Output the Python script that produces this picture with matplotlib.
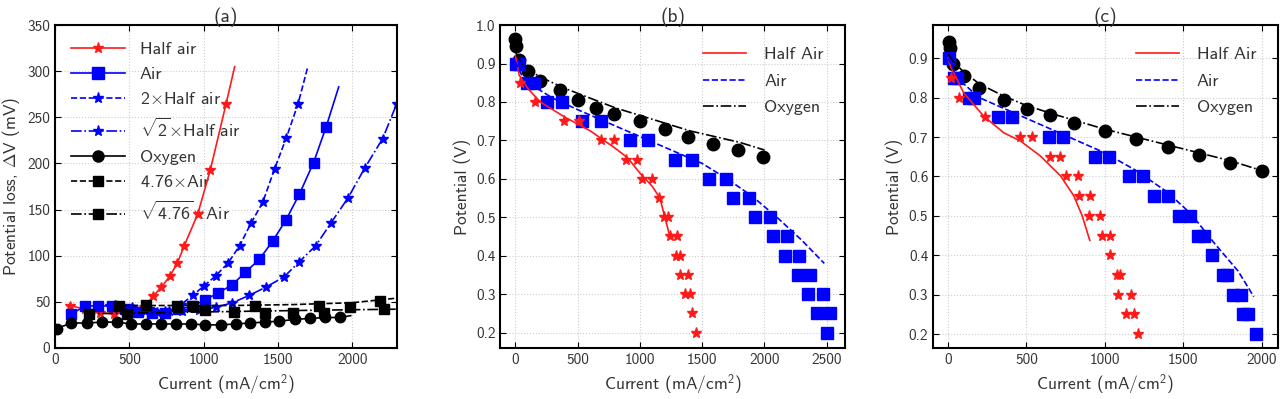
import matplotlib
matplotlib.use("Agg")
import matplotlib.pyplot as plt
from matplotlib.lines import Line2D

plt.rcParams["font.family"] = ["cmss10", "DejaVu Sans"]
plt.rcParams["mathtext.fontset"] = "custom"
plt.rcParams["mathtext.rm"] = "cmss10"
plt.rcParams["mathtext.it"] = "cmss10:italic"
plt.rcParams["mathtext.bf"] = "cmss10:bold"
plt.rcParams["axes.unicode_minus"] = False
plt.rcParams["axes.formatter.use_mathtext"] = False

# ---- panel (a): potential loss vs current ----
half_x = [100, 200, 300, 400, 500, 600, 660, 716, 773, 823, 870, 960, 1045, 1150, 1209]
half_y = [46, 42, 38, 37, 39, 44, 56, 66, 78, 92, 111, 145, 193, 264, 305]

air_x = [110, 200, 290, 380, 470, 560, 650, 740, 830, 920, 1010, 1100, 1190, 1280,
         1375, 1465, 1555, 1645, 1740, 1825, 1909]
air_y = [37, 45, 46, 45, 42, 39, 38, 38, 42, 45, 52, 60, 68, 82, 96, 116, 139, 167,
         201, 240, 283]

half2_x = [287, 367, 447, 527, 607, 687, 767, 847, 927, 1000, 1080, 1164, 1243, 1318,
           1398, 1477, 1557, 1636, 1698]
half2_y = [46, 45, 44, 42, 40, 39, 40, 47, 57, 67, 78, 92, 111, 135, 158, 194, 228,
           265, 303]

halfs2_x = [403, 516, 629, 742, 855, 968, 1081, 1194, 1307, 1420, 1541, 1641, 1755,
            1859, 1973, 2084, 2205, 2300]
halfs2_y = [47, 44, 42, 40, 40, 41, 44, 49, 57, 66, 77, 93, 111, 136, 163, 195, 227, 265]

oxy_x = [10, 110, 215, 315, 415, 510, 610, 710, 815, 915, 1010, 1115, 1215, 1310,
         1410, 1510, 1615, 1715, 1815, 1915, 1990]
oxy_y = [21, 27, 27, 28, 28, 26, 26, 26, 26, 26, 25, 25, 26, 27, 28, 29, 31, 32, 33, 33, 35]

air476_x = [430, 610, 820, 926, 1343, 1774, 1988, 2190]
air476_y = [45, 47, 45, 45, 46, 45, 44, 51]
air476_fit_x = [400, 800, 1200, 1600, 2000, 2300]
air476_fit_y = [46, 46, 46, 47, 49, 54]

airs476_x = [226, 486, 1010, 1205, 1410, 1604, 1808, 2214]
airs476_y = [37, 37, 41, 39, 38, 38, 38, 42]
airs476_fit_x = [200, 600, 1000, 1400, 1800, 2300]
airs476_fit_y = [37, 38, 39, 40, 41, 42]

# ---- panel (b): polarisation curves ----
b_oxy_x = [0, 5, 30, 100, 200, 360, 505, 650, 795, 1000, 1200, 1385, 1590, 1790, 1985]
b_oxy_y = [0.965, 0.945, 0.91, 0.88, 0.855, 0.83, 0.805, 0.785, 0.77, 0.75, 0.73,
           0.71, 0.69, 0.675, 0.657]
b_air_x = [5, 30, 94, 147, 254, 374, 535, 687, 922, 1061, 1283, 1417, 1551, 1693, 1751,
           1877, 1925, 2045, 2072, 2179, 2166, 2281, 2267, 2366, 2348, 2473, 2420, 2527, 2500]
b_air_y = [0.9, 0.9, 0.85, 0.85, 0.8, 0.8, 0.75, 0.75, 0.7, 0.7, 0.65, 0.65, 0.6, 0.6,
           0.55, 0.55, 0.5, 0.5, 0.45, 0.45, 0.4, 0.4, 0.35, 0.35, 0.3, 0.3, 0.25, 0.25, 0.2]
b_half_x = [40, 160, 388, 508, 687, 789, 888, 976, 1016, 1096, 1150, 1190, 1222, 1243,
            1297, 1289, 1318, 1324, 1382, 1364, 1404, 1417, 1449]
b_half_y = [0.85, 0.8, 0.75, 0.75, 0.7, 0.7, 0.65, 0.65, 0.6, 0.6, 0.55, 0.5, 0.5, 0.45,
            0.45, 0.4, 0.4, 0.35, 0.35, 0.3, 0.3, 0.25, 0.2]
b_half_fit_x = [0, 30, 100, 200, 400, 600, 800, 900, 1000, 1100, 1160, 1200, 1240]
b_half_fit_y = [0.92, 0.87, 0.835, 0.8, 0.76, 0.725, 0.68, 0.655, 0.615, 0.58, 0.55,
                0.5, 0.45]
b_air_fit_x = [0, 50, 150, 300, 500, 750, 1000, 1250, 1500, 1700, 1900, 2100, 2300, 2480]
b_air_fit_y = [0.905, 0.87, 0.84, 0.81, 0.78, 0.745, 0.71, 0.675, 0.64, 0.6, 0.555,
               0.5, 0.44, 0.38]
b_oxy_fit_x = [0, 50, 100, 200, 400, 600, 800, 1000, 1200, 1400, 1600, 1800, 2000]
b_oxy_fit_y = [0.93, 0.9, 0.885, 0.865, 0.835, 0.81, 0.785, 0.765, 0.745, 0.725, 0.71,
               0.695, 0.675]

# ---- panel (c): polarisation curves ----
c_oxy_x = [5, 10, 30, 100, 200, 356, 505, 649, 802, 1003, 1198, 1400, 1601, 1798, 2000]
c_oxy_y = [0.94, 0.925, 0.885, 0.855, 0.825, 0.795, 0.77, 0.755, 0.735, 0.715, 0.695,
           0.675, 0.655, 0.635, 0.615]
c_air_x = [6, 38, 60, 134, 165, 320, 409, 647, 732, 940, 1024, 1152, 1241, 1311, 1400,
           1470, 1545, 1597, 1630, 1682, 1756, 1780, 1820, 1870, 1880, 1910, 1964]
c_air_y = [0.9, 0.85, 0.85, 0.8, 0.8, 0.75, 0.75, 0.7, 0.7, 0.65, 0.65, 0.6, 0.6, 0.55,
           0.55, 0.5, 0.5, 0.45, 0.45, 0.4, 0.35, 0.35, 0.3, 0.3, 0.25, 0.25, 0.2]
c_half_x = [17, 70, 233, 462, 536, 649, 717, 753, 827, 833, 903, 901, 967, 982, 1036,
            1035, 1077, 1095, 1084, 1169, 1135, 1183, 1209]
c_half_y = [0.85, 0.8, 0.75, 0.7, 0.7, 0.65, 0.65, 0.6, 0.6, 0.55, 0.55, 0.5, 0.5, 0.45,
            0.45, 0.4, 0.35, 0.35, 0.3, 0.3, 0.25, 0.25, 0.2]
c_half_fit_x = [0, 15, 100, 228, 355, 462, 589, 717, 802, 855, 904]
c_half_fit_y = [0.9, 0.88, 0.812, 0.753, 0.711, 0.69, 0.652, 0.602, 0.551, 0.501,
                0.438]
c_air_fit_x = [0, 50, 100, 200, 400, 600, 800, 1000, 1200, 1400, 1550, 1700, 1850, 1950]
c_air_fit_y = [0.9, 0.86, 0.835, 0.8, 0.765, 0.73, 0.695, 0.66, 0.615, 0.56, 0.505,
               0.43, 0.36, 0.295]
c_oxy_fit_x = [0, 50, 100, 200, 350, 500, 700, 1000, 1200, 1400, 1600, 1800, 2000]
c_oxy_fit_y = [0.91, 0.885, 0.865, 0.835, 0.805, 0.78, 0.755, 0.72, 0.7, 0.68, 0.66,
               0.64, 0.615]

RED = "#ff1a1a"
BLUE = "#0000ff"
TXT = "#333333"


def style(ax):
    ax.grid(True, color="#cccccc", linestyle=":", linewidth=0.8)
    ax.set_axisbelow(True)
    ax.tick_params(direction="in", top=True, right=True, labelsize=11, length=4,
                   labelcolor=TXT)
    for s in ax.spines.values():
        s.set_linewidth(1.5)
    ax.set_xlabel("Current (mA/cm$^2$)", fontsize=12.5, color=TXT)


fig = plt.figure(figsize=(12.8, 3.99), dpi=100)
ax1 = fig.add_axes([0.043, 0.128, 0.267, 0.809])
ax2 = fig.add_axes([0.391, 0.128, 0.2695, 0.809])
ax3 = fig.add_axes([0.729, 0.128, 0.2695, 0.809])

# panel (a)
ax1.plot(half_x, half_y, "-", color=RED, marker="*", ms=7.5, lw=1.2, markevery=slice(0, -1))
ax1.plot(air_x, air_y, "-", color=BLUE, marker="s", ms=7.5, lw=1.2, markevery=slice(0, -1))
ax1.plot(half2_x, half2_y, "--", color=BLUE, marker="*", ms=7.5, lw=1.2, markevery=slice(0, -1))
ax1.plot(halfs2_x, halfs2_y, "-.", color=BLUE, marker="*", ms=7.5, lw=1.2)
ax1.plot(oxy_x, oxy_y, "-", color="black", marker="o", ms=7.5, lw=1.2, markevery=slice(0, -1))
ax1.plot(air476_fit_x, air476_fit_y, "--", color="black", lw=1.2)
ax1.plot(air476_x, air476_y, "s", color="black", ms=7)
ax1.plot(airs476_fit_x, airs476_fit_y, "-.", color="black", lw=1.2)
ax1.plot(airs476_x, airs476_y, "s", color="black", ms=7)

handles_a = [
    Line2D([], [], color=RED, ls="-", marker="*", ms=8, lw=1.2),
    Line2D([], [], color=BLUE, ls="-", marker="s", ms=8, lw=1.2),
    Line2D([], [], color=BLUE, ls="--", marker="*", ms=8, lw=1.2),
    Line2D([], [], color=BLUE, ls="-.", marker="*", ms=8, lw=1.2),
    Line2D([], [], color="black", ls="-", marker="o", ms=8, lw=1.2),
    Line2D([], [], color="black", ls="--", marker="s", ms=7, lw=1.2),
    Line2D([], [], color="black", ls="-.", marker="s", ms=7, lw=1.2),
]
labels_a = ["Half air", "Air", r"2$\times$Half air", r"$\sqrt{2}$$\times$Half air",
            "Oxygen", r"4.76$\times$Air", r"$\sqrt{4.76}$$\times$Air"]
leg = ax1.legend(handles_a, labels_a, loc="upper left", frameon=False, fontsize=13,
                 handlelength=3.0, labelspacing=0.52, borderaxespad=0.5,
                 labelcolor=TXT)
leg.set_zorder(1)
ax1.set_xlim(0, 2300)
ax1.set_ylim(0, 350)
ax1.set_xticks([0, 500, 1000, 1500, 2000])
ax1.set_yticks(range(0, 351, 50))
ax1.set_ylabel(r"Potential loss, $\Delta$V (mV)", fontsize=12.5, color=TXT, labelpad=4)
ax1.set_title("(a)", fontsize=14, pad=2, color=TXT)
style(ax1)


def polar(ax, ox, oy, ax_, ay, hx, hy, hfx, hfy, afx, afy, ofx, ofy):
    ax.plot(ox, oy, "o", color="black", ms=9, zorder=3)
    ax.plot(ax_, ay, "s", color=BLUE, ms=8.5, zorder=3)
    ax.plot(hx, hy, "*", color=RED, ms=8, zorder=3)
    ax.plot(hfx, hfy, "-", color=RED, lw=1.2, label="Half Air", zorder=4)
    ax.plot(afx, afy, "--", color=BLUE, lw=1.2, label="Air", zorder=4)
    ax.plot(ofx, ofy, "-.", color="black", lw=1.2, label="Oxygen", zorder=4)
    ax.legend(loc="upper right", frameon=False, fontsize=13, handlelength=2.4,
              labelspacing=0.6, borderaxespad=0.8, handletextpad=1.0, labelcolor=TXT)
    ax.set_ylabel("Potential (V)", fontsize=12.5, color=TXT)
    style(ax)


polar(ax2, b_oxy_x, b_oxy_y, b_air_x, b_air_y, b_half_x, b_half_y,
      b_half_fit_x, b_half_fit_y, b_air_fit_x, b_air_fit_y, b_oxy_fit_x, b_oxy_fit_y)
ax2.set_xlim(-120, 2650)
ax2.set_ylim(0.16, 1.0)
ax2.set_xticks([0, 500, 1000, 1500, 2000, 2500])
ax2.set_yticks([0.2, 0.3, 0.4, 0.5, 0.6, 0.7, 0.8, 0.9, 1.0])
ax2.set_title("(b)", fontsize=14, pad=2, color=TXT)

polar(ax3, c_oxy_x, c_oxy_y, c_air_x, c_air_y, c_half_x, c_half_y,
      c_half_fit_x, c_half_fit_y, c_air_fit_x, c_air_fit_y, c_oxy_fit_x, c_oxy_fit_y)
ax3.set_xlim(-95, 2105)
ax3.set_ylim(0.165, 0.984)
ax3.set_xticks([0, 500, 1000, 1500, 2000])
ax3.set_yticks([0.2, 0.3, 0.4, 0.5, 0.6, 0.7, 0.8, 0.9])
ax3.set_title("(c)", fontsize=14, pad=2, color=TXT)

fig.savefig("out.png", dpi=100)
